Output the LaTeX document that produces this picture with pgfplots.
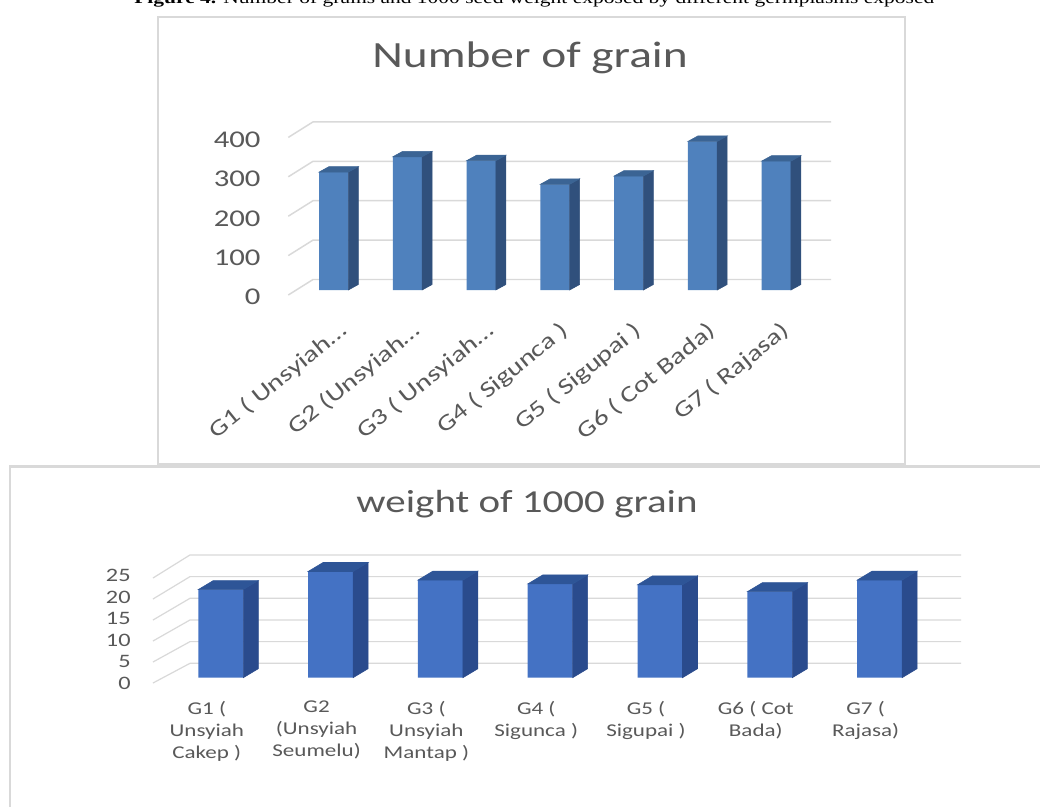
\documentclass[border=0pt]{standalone}
\usepackage{pgfplots}
\pgfplotsset{compat=1.18}
\usepackage{pgfplotstable}
\usepackage{fontspec}
\setmainfont{Carlito}
\newfontfamily\cf[FakeStretch=1.28]{Carlito}
\newfontfamily\capf[FakeStretch=1.28]{Liberation Serif}
\definecolor{tfront}{HTML}{4F81BD}
\definecolor{tside}{HTML}{30507C}
\definecolor{ttop}{HTML}{3B6494}
\definecolor{bfront}{HTML}{4472C4}
\definecolor{bside}{HTML}{2A4B8D}
\definecolor{btop}{HTML}{2E5597}
\definecolor{gridc}{HTML}{D9D9D9}
\definecolor{txt}{HTML}{595959}
\pgfdeclareplotmark{nothing}{}
\pgfplotstableread{
x v
1 300
2 339
3 329
4 269
5 290
6 378
7 328
}\grain
\pgfplotstableread{
x v
1 20.5
2 24.7
3 22.7
4 21.8
5 21.6
6 20.0
7 22.7
}\weight
\begin{document}
\begin{tikzpicture}
\begin{scope}[x=0.75pt,y=-0.75pt]
\useasboundingbox (0,0) rectangle (1040,807);
\fill[white] (0,0) rectangle (1040,807);
% caption (cut at top)
\node[anchor=base west, inner sep=0pt, text=black] at (134,3.5) {\capf\fontsize{12.6}{14}\selectfont\bfseries Figure 4. \mdseries Number of grains and 1000 seed weight exposed by different germplasms exposed};
% frames
\draw[gridc, line width=1.6pt] (158,17) rectangle (905,464);
\draw[gridc, line width=1.6pt] (10,466.5) rectangle (1070,840);
% titles
\node[anchor=base, inner sep=0pt, text=txt] at (530,67) {\cf\fontsize{27.75}{30}\selectfont Number of grain};
\node[anchor=base, inner sep=0pt, text=txt] at (527,512) {\cf\fontsize{24}{26}\selectfont weight of 1000 grain};
% top grid (back wall + floor diagonals)
\foreach \k in {0,...,4} {
  \draw[gridc, line width=1.1pt] (288.3,{295-\k*39.4}) -- (313,{279.5-\k*39.4}) -- (831,{279.5-\k*39.4});
}
% bottom grid
\foreach \k in {0,...,5} {
  \draw[gridc, line width=0.9pt] (153,{683-\k*21}) -- (190,{663.3-\k*21.67}) -- (961,{663.3-\k*21.67});
}
\coordinate (TA) at (296.8,290);
\coordinate (BA) at (165.9,677.7);
\end{scope}

\begin{axis}[
  at={(TA)}, anchor=south west,
  x=55.3275pt, y=0.29475pt,
  xmin=0.5, xmax=7.5, ymin=0, ymax=400,
  enlargelimits=false, clip=false,
  axis line style={draw=none}, major tick length=0pt,
  ytick={0,100,200,300,400},
  xtick={1,2,3,4,5,6,7},
  xticklabels={{G1 ( Unsyiah\ldots},{G2 (Unsyiah\ldots},{G3 ( Unsyiah\ldots},{G4 ( Sigunca )},{G5 ( Sigupai )},{G6 ( Cot Bada)},{G7 ( Rajasa)}},
  /pgf/number format/assume math mode=true,
  yticklabel style={font=\cf\fontsize{18}{20}\selectfont, text=txt, anchor=east, inner sep=0pt, xshift=-27pt, yshift=-5.25pt},
  xticklabel style={font=\cf\fontsize{17}{18}\selectfont, text=txt, rotate=39, anchor=east, inner sep=0pt, xshift=-12pt, yshift=-27pt},
]
\addplot[ybar, bar width=21.975pt, fill=tfront, draw=none] table[x=x,y=v]{\grain};
\addplot[scatter, only marks, mark=nothing, point meta=y,
  visualization depends on={rawy \as \val},
  scatter/@pre marker code/.code={
    \fill[tside] (10.99pt,0pt) -- (18.49pt,4.125pt) -- ({18.49pt},{4.125pt-\val*0.29475pt}) -- ({10.99pt},{-\val*0.29475pt}) -- cycle;
    \fill[ttop] (-10.99pt,0pt) -- (10.99pt,0pt) -- (18.49pt,4.125pt) -- (-3.49pt,4.125pt) -- cycle;
  },
  scatter/@post marker code/.code={}]
  table[x=x,y=v]{\grain};
\end{axis}

\begin{axis}[
  at={(BA)}, anchor=south west,
  x=82.35pt, y=3.225pt,
  xmin=0.5, xmax=7.5, ymin=0, ymax=25,
  enlargelimits=false, clip=false,
  axis line style={draw=none}, major tick length=0pt,
  ytick={0,5,10,15,20,25},
  xtick={1,2,3,4,5,6,7},
  xticklabels={{G1 (\\Unsyiah\\Cakep )},{G2\\(Unsyiah\\Seumelu)},{G3 (\\Unsyiah\\Mantap )},{G4 (\\Sigunca )},{G5 (\\Sigupai )},{G6 ( Cot\\Bada)},{G7 (\\Rajasa)}},
  /pgf/number format/assume math mode=true,
  yticklabel style={font=\cf\fontsize{14.25}{16}\selectfont, text=txt, anchor=east, inner sep=0pt, xshift=-26.25pt, yshift=-4.1pt},
  xticklabel style={font=\cf\fontsize{13.5}{16.5}\selectfont, text=txt, align=center, anchor=north, inner sep=0pt, xshift=-10.5pt, yshift=-17.5pt},
]
\addplot[ybar, bar width=33.75pt, fill=bfront, draw=none] table[x=x,y=v]{\weight};
\addplot[scatter, only marks, mark=nothing, point meta=y,
  visualization depends on={rawy \as \val},
  scatter/@pre marker code/.code={
    \fill[bside] (16.875pt,0pt) -- (28.125pt,6.75pt) -- ({28.125pt},{6.75pt-\val*3.225pt}) -- ({16.875pt},{-\val*3.225pt}) -- cycle;
    \fill[btop] (-16.875pt,0pt) -- (16.875pt,0pt) -- (28.125pt,6.75pt) -- (-5.625pt,6.75pt) -- cycle;
  },
  scatter/@post marker code/.code={}]
  table[x=x,y=v]{\weight};
\end{axis}
\end{tikzpicture}
\end{document}
